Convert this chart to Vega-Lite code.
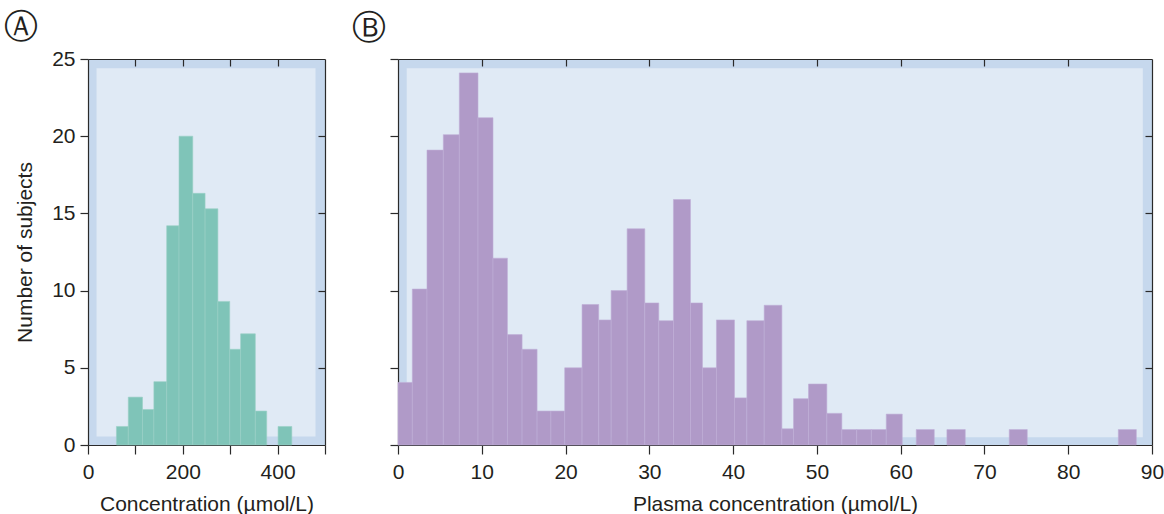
{
  "$schema": "https://vega.github.io/schema/vega-lite/v6.json",
  "background": "white",
  "padding": {"left": 4, "top": 11, "right": 0, "bottom": 0},
  "config": {
    "view": {"fill": "#c6d8ed", "stroke": null},
    "font": "Liberation Sans",
    "axis": {
      "domainColor": "#2a2a2a", "domainWidth": 1.2, "tickColor": "#2a2a2a", "tickWidth": 1.2,
      "tickSize": 8, "grid": false, "labelFont": "Liberation Sans", "labelFontSize": 21,
      "labelColor": "#231f20", "titleFont": "Liberation Sans", "titleFontSize": 21,
      "titleFontWeight": "normal", "titleColor": "#231f20", "minExtent": 0, "labelPadding": 5,
      "labelFlush": false
    },
    "title": {"font": "DejaVu Sans", "fontSize": 34, "fontWeight": "normal", "color": "#231f20", "anchor": "start", "frame": "group"}
  },
  "datasets": {
    "a": [
      {"start": 60, "end": 85, "count": 1.2},
      {"start": 85, "end": 115, "count": 3.1},
      {"start": 115, "end": 139, "count": 2.3},
      {"start": 139, "end": 166, "count": 4.1},
      {"start": 166, "end": 192, "count": 14.2},
      {"start": 192, "end": 221, "count": 20},
      {"start": 221, "end": 247, "count": 16.3},
      {"start": 247, "end": 274, "count": 15.3},
      {"start": 274, "end": 299, "count": 9.3},
      {"start": 299, "end": 322, "count": 6.2},
      {"start": 322, "end": 353, "count": 7.2},
      {"start": 353, "end": 377, "count": 2.2},
      {"start": 401, "end": 430, "count": 1.2}
    ],
    "b": [
      {"start": 0, "end": 1.71, "count": 4.05},
      {"start": 1.71, "end": 3.46, "count": 10.1},
      {"start": 3.46, "end": 5.41, "count": 19.1},
      {"start": 5.41, "end": 7.32, "count": 20.1},
      {"start": 7.32, "end": 9.55, "count": 24.1},
      {"start": 9.55, "end": 11.34, "count": 21.2},
      {"start": 11.34, "end": 13.06, "count": 12.1},
      {"start": 13.06, "end": 14.81, "count": 7.15},
      {"start": 14.81, "end": 16.6, "count": 6.2},
      {"start": 16.6, "end": 18.25, "count": 2.2},
      {"start": 18.25, "end": 19.9, "count": 2.2},
      {"start": 19.9, "end": 21.97, "count": 5.0},
      {"start": 21.97, "end": 23.96, "count": 9.1},
      {"start": 23.96, "end": 25.44, "count": 8.1},
      {"start": 25.44, "end": 27.35, "count": 10.0},
      {"start": 27.35, "end": 29.46, "count": 14.0},
      {"start": 29.46, "end": 31.13, "count": 9.2},
      {"start": 31.13, "end": 32.88, "count": 8.05},
      {"start": 32.88, "end": 34.91, "count": 15.9},
      {"start": 34.91, "end": 36.34, "count": 9.2},
      {"start": 36.34, "end": 38.01, "count": 5.0},
      {"start": 38.01, "end": 40.16, "count": 8.1},
      {"start": 40.16, "end": 41.64, "count": 3.05},
      {"start": 41.64, "end": 43.71, "count": 8.05},
      {"start": 43.71, "end": 45.82, "count": 9.05},
      {"start": 45.82, "end": 47.21, "count": 1.05},
      {"start": 47.21, "end": 49.0, "count": 3.0},
      {"start": 49.0, "end": 51.19, "count": 3.95},
      {"start": 51.19, "end": 52.98, "count": 2.05},
      {"start": 52.98, "end": 54.75, "count": 1.0},
      {"start": 54.75, "end": 56.5, "count": 1.0},
      {"start": 56.5, "end": 58.28, "count": 1.0},
      {"start": 58.28, "end": 60.19, "count": 2.0},
      {"start": 61.86, "end": 64.01, "count": 1.0},
      {"start": 65.52, "end": 67.71, "count": 1.0},
      {"start": 72.96, "end": 75.11, "count": 1.0},
      {"start": 85.98, "end": 88.13, "count": 1.0}
    ]
  },
  "bounds": "flush",
  "spacing": 73,
  "hconcat": [
    {
      "width": 237, "height": 386,
      "title": {"text": "Ⓐ", "dx": -84, "offset": 3},
      "resolve": {"axis": {"x": "independent", "y": "independent"}},
      "layer": [
        {
          "data": {"values": [{}]},
          "mark": {"type": "rect", "fill": "#e0eaf5"},
          "encoding": {
            "x": {"datum": 18, "type": "quantitative", "scale": {"domain": [0, 500], "nice": false},
                  "axis": {"orient": "top", "values": [100, 200, 300, 400], "labels": false, "tickSize": -7, "title": null}},
            "x2": {"datum": 480},
            "y": {"datum": 0.55, "type": "quantitative", "scale": {"domain": [0, 25], "nice": false},
                  "axis": {"orient": "right", "values": [5, 10, 15, 20], "labels": false, "tickSize": -7, "title": null}},
            "y2": {"datum": 24.4}
          }
        },
        {
          "data": {"name": "a"},
          "mark": {"type": "rect", "fill": "#7fc4b8", "stroke": "#9bd0c6", "strokeWidth": 0.6},
          "encoding": {
            "x": {"field": "start", "type": "quantitative", "scale": {"domain": [0, 500], "nice": false},
                  "axis": {"orient": "bottom", "values": [0, 100, 200, 300, 400, 500], "tickSize": 9, "labelPadding": 7,
                           "labelExpr": "datum.value % 200 == 0 && datum.value < 500 ? datum.label : ''",
                           "title": "Concentration (µmol/L)", "titlePadding": 11}},
            "x2": {"field": "end"},
            "y": {"field": "count", "type": "quantitative", "scale": {"domain": [0, 25], "nice": false},
                  "axis": {"orient": "left", "values": [0, 5, 10, 15, 20, 25], "title": "Number of subjects", "titlePadding": 16}},
            "y2": {"datum": 0}
          }
        }
      ]
    },
    {
      "width": 754, "height": 386,
      "title": {"text": "Ⓑ", "dx": -46, "offset": 12},
      "resolve": {"axis": {"x": "independent", "y": "independent"}},
      "layer": [
        {
          "data": {"values": [{}]},
          "mark": {"type": "rect", "fill": "#e0eaf5"},
          "encoding": {
            "x": {"datum": 1.04, "type": "quantitative", "scale": {"domain": [0, 90], "nice": false},
                  "axis": {"orient": "top", "values": [10, 20, 30, 40, 50, 60, 70, 80], "labels": false, "tickSize": -7, "title": null}},
            "x2": {"datum": 88.9},
            "y": {"datum": 0.5, "type": "quantitative", "scale": {"domain": [0, 25], "nice": false},
                  "axis": {"orient": "right", "values": [5, 10, 15, 20], "labels": false, "tickSize": -7, "title": null}},
            "y2": {"datum": 24.4}
          }
        },
        {
          "data": {"name": "b"},
          "mark": {"type": "rect", "fill": "#b09ac8", "stroke": "#bfaed6", "strokeWidth": 0.6},
          "encoding": {
            "x": {"field": "start", "type": "quantitative", "scale": {"domain": [0, 90], "nice": false},
                  "axis": {"orient": "bottom", "values": [0, 10, 20, 30, 40, 50, 60, 70, 80, 90], "tickSize": 9, "labelPadding": 7,
                           "title": "Plasma concentration (µmol/L)", "titlePadding": 11}},
            "x2": {"field": "end"},
            "y": {"field": "count", "type": "quantitative", "scale": {"domain": [0, 25], "nice": false},
                  "axis": {"orient": "left", "values": [0, 5, 10, 15, 20, 25], "labels": false, "title": null}},
            "y2": {"datum": 0}
          }
        }
      ]
    }
  ]
}
